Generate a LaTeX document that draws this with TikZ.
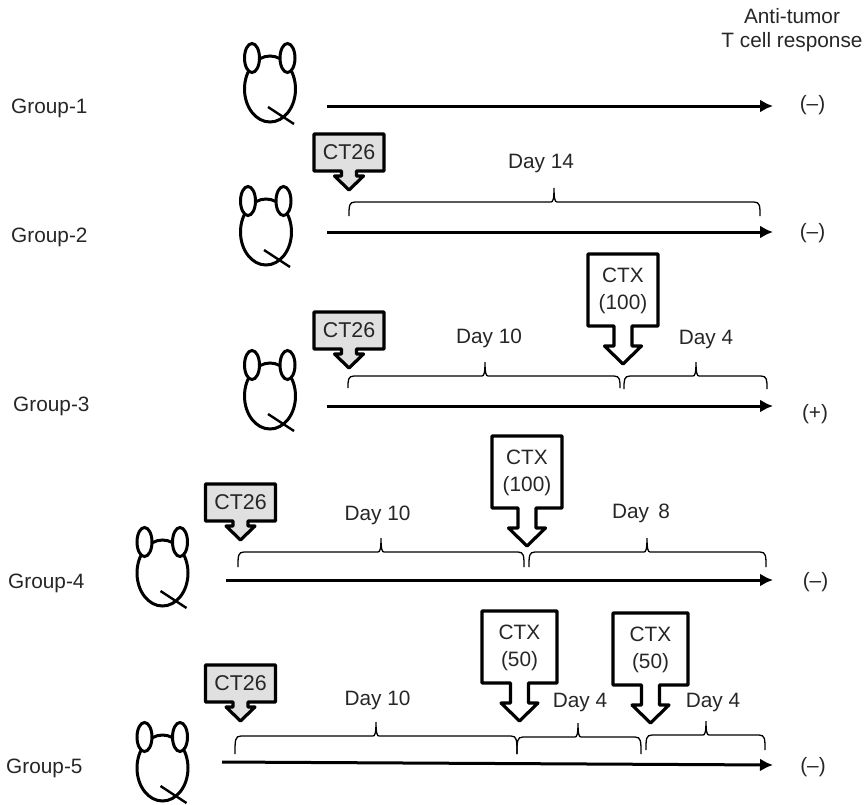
\documentclass[tikz,border=0pt]{standalone}
\usepackage{fontspec}
\setmainfont{Liberation Sans}
\usetikzlibrary{arrows.meta}
\tikzset{
  axisline/.style={line width=3pt,-{Latex[length=13pt,width=13pt]}},
  outline/.style={line width=3.2pt,line join=round},
  bracket/.style={line width=1.3pt},
  lab/.style={font=\fontsize{20.8}{26}\selectfont,text=black!85,inner sep=0pt,align=center},
}
% mouse: body centre
\newcommand{\mouse}[2]{
  \begin{scope}[shift={(#1,#2)}]
    \draw[line width=3pt] (0,0) ellipse (25.5 and 33);
    \draw[line width=3pt,fill=white] (-18,-31) ellipse (7.5 and 14.5);
    \draw[line width=3pt,fill=white] (17.5,-31) ellipse (7.5 and 14.5);
    \draw[line width=2.4pt] (-2,18) -- (24,35);
  \end{scope}
}
% small grey arrow: name, tip
\newcommand{\tumor}[3]{
  \begin{scope}[shift={(#2,#3)}]
    \draw[outline,fill=black!12] (-35,-56) -- (35,-56) -- (35,-19) -- (7.5,-19) -- (7.5,-14) -- (14.5,-14) -- (0,0) -- (-14.5,-14) -- (-7.5,-14) -- (-7.5,-19) -- (-35,-19) --cycle;
    \node[lab,font=\fontsize{21.4}{26}\selectfont] (#1) at (0,-38) {CT26};
  \end{scope}
}
% big arrow: name, tip, half width, dose
\newcommand{\drug}[5]{
  \begin{scope}[shift={(#2,#3)}]
    \draw[outline,fill=white] (-#4,-110) -- (#4,-110) -- (#4,-38) -- (9,-38) -- (9,-18) -- (18.5,-18) -- (0,0) -- (-18.5,-18) -- (-9,-18) -- (-9,-38) -- (-#4,-38) --cycle;
    \node[lab,font=\fontsize{20.8}{27}\selectfont] (#1) at (0,-73.5) {CTX\\(#5)};
  \end{scope}
}
% brace: left, right, tip, top, bottom
\newcommand{\daybrace}[5]{
  \draw[bracket] (#1,#5) .. controls (#1,#4+4) and (#1,#4) .. (#1+6,#4) -- (#3-3,#4) .. controls (#3-1,#4) and (#3,#4-3) .. (#3,#4-14) .. controls (#3,#4-3) and (#3+1,#4) .. (#3+3,#4) -- (#2-6,#4) .. controls (#2,#4) and (#2,#4+4) .. (#2,#5);
}
\begin{document}
\begin{tikzpicture}[x=1pt,y=-1pt]
  \useasboundingbox (0,0) rectangle (867,804);

  \node[lab] (head1) at (792,16) {Anti-tumor};
  \node[lab] (head2) at (792,42) {T cell response};

  \foreach \n/\x/\y in {1/11/108,2/11/237,3/13/406,4/8/583,5/6/768}
    \node[lab,anchor=west] (g\n) at (\x,\y) {Group-\n};

  \foreach \x/\y in {270/89,266/232,270/396,162.5/573,162.5/768}
    {\mouse{\x}{\y}}

  \draw[axisline] (327,106) coordinate(s1) -- (773,106) coordinate(e1);
  \draw[axisline] (327,232) coordinate(s2) -- (773,232) coordinate(e2);
  \draw[axisline] (327,406) coordinate(s3) -- (773,406) coordinate(e3);
  \draw[axisline] (226,580) coordinate(s4) -- (773,580) coordinate(e4);
  \draw[axisline] (222,762) coordinate(s5) -- (773,765) coordinate(e5);

  \foreach \n/\x/\y/\t in {1/812.5/105/(--),2/812.5/233/(--),3/815/414/(+),4/815.5/582/(--),5/813/767/(--)}
    \node[lab] (r\n) at (\x,\y) {\t};

  \tumor{ct2}{349}{190}
  \tumor{ct3}{349}{368}
  \tumor{ct4}{240.5}{540}
  \tumor{ct5}{240.5}{721}

  \drug{cx3}{623}{364}{35}{100}
  \drug{cx4}{527}{546}{35}{100}
  \drug{cx5a}{519.5}{721}{37.5}{50}
  \drug{cx5b}{650.5}{723}{37.5}{50}

  \daybrace{349}{760}{554}{202}{216}
  \daybrace{348}{620}{485}{376}{388}
  \daybrace{624}{767}{696}{376}{389}
  \daybrace{238}{524}{381}{552}{567}
  \daybrace{529}{766}{647}{552}{567}
  \daybrace{235}{517}{376}{736}{754}
  \daybrace{517}{641}{578}{737}{754}
  \daybrace{646}{765}{706}{735}{750}

  \node[lab] (d2) at (541,163) {Day 14};
  \node[lab] (d3a) at (489,338) {Day 10};
  \node[lab] (d3b) at (706,339) {Day 4};
  \node[lab] (d4a) at (377.5,515) {Day 10};
  \node[lab] (d4b) at (641,513) {Day\,\ 8};
  \node[lab] (d5a) at (377.5,700) {Day 10};
  \node[lab] (d5b) at (580,702) {Day 4};
  \node[lab] (d5c) at (713,702) {Day 4};
\end{tikzpicture}
\end{document}
